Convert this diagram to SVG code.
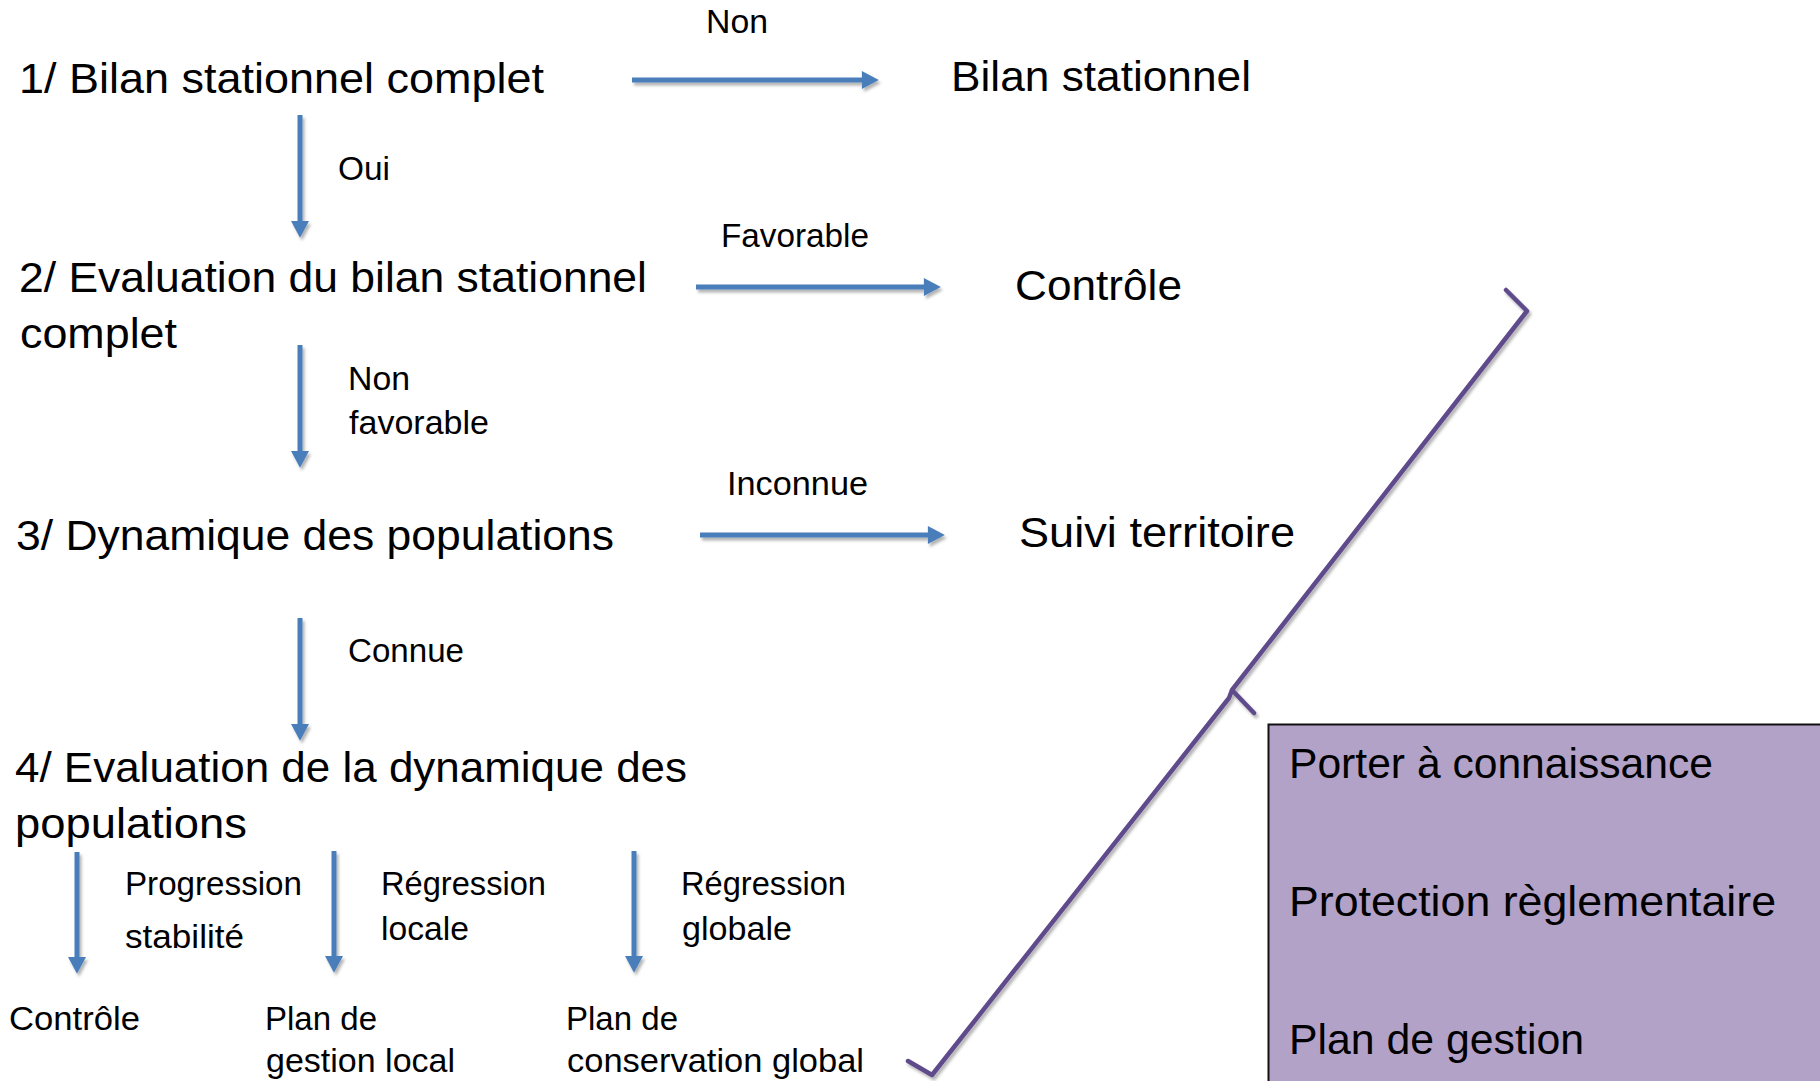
<svg xmlns="http://www.w3.org/2000/svg" width="1820" height="1081" viewBox="0 0 1820 1081">
<style>
  text { font-family: "Liberation Sans", Arial, sans-serif; fill: #000; }
  .big { font-size: 43px; }
  .small { font-size: 32.5px; }
  .conn { stroke: #4A7EBB; stroke-width: 5; fill: none; marker-end: url(#ah); }
  .brace { stroke: #5F4B8B; stroke-width: 4.5; fill: none; stroke-linejoin: round; stroke-linecap: round; }
</style>
<defs>
  <marker id="ah" markerUnits="userSpaceOnUse" markerWidth="18" markerHeight="18" viewBox="0 0 16 17" refX="2" refY="8.5" orient="auto">
    <path d="M0,0 L16,8.5 L0,17 Z" fill="#4A7EBB"/>
  </marker>
  <filter id="sh" filterUnits="userSpaceOnUse" x="0" y="0" width="1820" height="1081">
    <feDropShadow dx="2" dy="3" stdDeviation="1.8" flood-color="#000" flood-opacity="0.3"/>
  </filter>
</defs>
<rect width="1820" height="1081" fill="#fff"/>

<g id="connectors" filter="url(#sh)">
  <line class="conn" x1="632" y1="80" x2="864" y2="80"/>
  <line class="conn" x1="696" y1="287" x2="926" y2="287"/>
  <line class="conn" x1="700" y1="535" x2="930" y2="535"/>
  <line class="conn" x1="300" y1="115" x2="300" y2="223"/>
  <line class="conn" x1="300" y1="345" x2="300" y2="453"/>
  <line class="conn" x1="300" y1="618" x2="300" y2="726"/>
  <line class="conn" x1="77" y1="852" x2="77" y2="959"/>
  <line class="conn" x1="334" y1="851" x2="334" y2="958"/>
  <line class="conn" x1="634" y1="851" x2="634" y2="958"/>
</g>

<g id="connector-labels">
  <text class="small" x="706" y="33" textLength="62" lengthAdjust="spacingAndGlyphs">Non</text>
  <text class="small" x="338" y="180" textLength="52" lengthAdjust="spacingAndGlyphs">Oui</text>
  <text class="small" x="721" y="247" textLength="148" lengthAdjust="spacingAndGlyphs">Favorable</text>
  <text class="small" x="348" y="390" textLength="62" lengthAdjust="spacingAndGlyphs">Non</text>
  <text class="small" x="349" y="434" textLength="140" lengthAdjust="spacingAndGlyphs">favorable</text>
  <text class="small" x="727" y="495" textLength="141" lengthAdjust="spacingAndGlyphs">Inconnue</text>
  <text class="small" x="348" y="662" textLength="116" lengthAdjust="spacingAndGlyphs">Connue</text>
  <text class="small" x="125" y="895" textLength="177" lengthAdjust="spacingAndGlyphs">Progression</text>
  <text class="small" x="125" y="948" textLength="119" lengthAdjust="spacingAndGlyphs">stabilité</text>
  <text class="small" x="381" y="895" textLength="165" lengthAdjust="spacingAndGlyphs">Régression</text>
  <text class="small" x="381" y="940" textLength="88" lengthAdjust="spacingAndGlyphs">locale</text>
  <text class="small" x="681" y="895" textLength="165" lengthAdjust="spacingAndGlyphs">Régression</text>
  <text class="small" x="682" y="940" textLength="110" lengthAdjust="spacingAndGlyphs">globale</text>
</g>

<g id="n1"><text class="big" x="19" y="93" textLength="525" lengthAdjust="spacingAndGlyphs">1/ Bilan stationnel complet</text></g>
<g id="n-bilan"><text class="big" x="951" y="91" textLength="300" lengthAdjust="spacingAndGlyphs">Bilan stationnel</text></g>
<g id="n2">
  <text class="big" x="19" y="292" textLength="628" lengthAdjust="spacingAndGlyphs">2/ Evaluation du bilan stationnel</text>
  <text class="big" x="20" y="348" textLength="157" lengthAdjust="spacingAndGlyphs">complet</text>
</g>
<g id="n-controle"><text class="big" x="1015" y="300" textLength="167" lengthAdjust="spacingAndGlyphs">Contrôle</text></g>
<g id="n3"><text class="big" x="16" y="550" textLength="598" lengthAdjust="spacingAndGlyphs">3/ Dynamique des populations</text></g>
<g id="n-suivi"><text class="big" x="1019" y="547" textLength="276" lengthAdjust="spacingAndGlyphs">Suivi territoire</text></g>
<g id="n4">
  <text class="big" x="15" y="782" textLength="672" lengthAdjust="spacingAndGlyphs">4/ Evaluation de la dynamique des</text>
  <text class="big" x="15" y="838" textLength="232" lengthAdjust="spacingAndGlyphs">populations</text>
</g>
<g id="n-controle2"><text class="small" x="9" y="1030" textLength="131" lengthAdjust="spacingAndGlyphs">Contrôle</text></g>
<g id="n-plan-local">
  <text class="small" x="265" y="1030" textLength="112" lengthAdjust="spacingAndGlyphs">Plan de</text>
  <text class="small" x="266" y="1072" textLength="189" lengthAdjust="spacingAndGlyphs">gestion local</text>
</g>
<g id="n-plan-global">
  <text class="small" x="566" y="1030" textLength="112" lengthAdjust="spacingAndGlyphs">Plan de</text>
  <text class="small" x="567" y="1072" textLength="297" lengthAdjust="spacingAndGlyphs">conservation global</text>
</g>

<g id="brace" filter="url(#sh)">
  <path class="brace" d="M1506,290 L1527,311 L1232,690 L1254,713 M1232,690 L1229,698 L932,1075 L908,1061"/>
</g>

<g id="n-box">
  <rect x="1268.5" y="724.5" width="560" height="370" fill="#B2A2C7" stroke="#111" stroke-width="2"/>
  <text class="big" x="1289" y="778" textLength="424" lengthAdjust="spacingAndGlyphs">Porter à connaissance</text>
  <text class="big" x="1289" y="916" textLength="487" lengthAdjust="spacingAndGlyphs">Protection règlementaire</text>
  <text class="big" x="1289" y="1054" textLength="295" lengthAdjust="spacingAndGlyphs">Plan de gestion</text>
</g>
</svg>
